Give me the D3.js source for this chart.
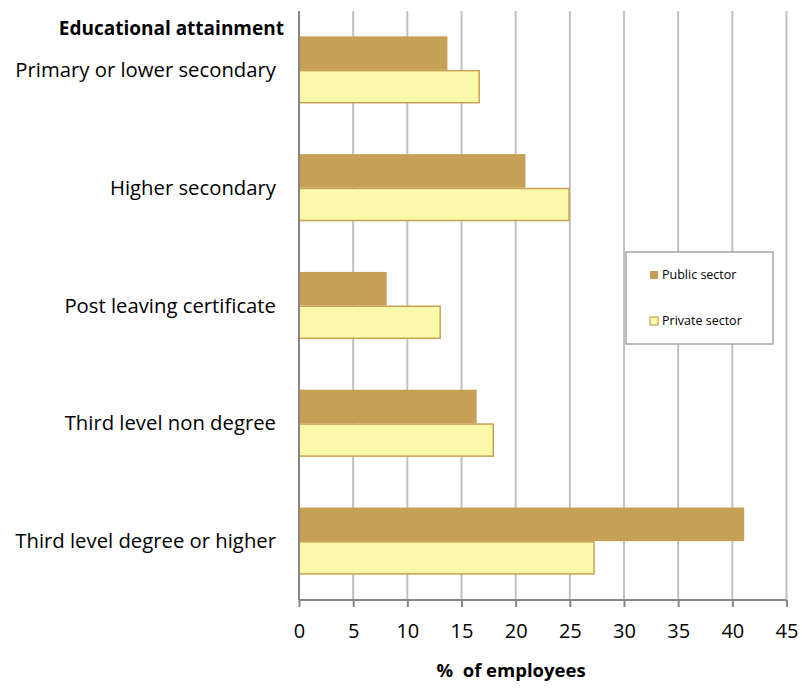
<!DOCTYPE html>
<html>
<head>
<meta charset="utf-8">
<script src="https://cdn.jsdelivr.net/npm/d3@7"></script>
<style>
  body { margin: 0; background: #fff; }
  svg { font-family: "Open Sans", sans-serif; }
</style>
</head>
<body>
<div id="chart"></div>
<script>
// values
const categories = ["Primary or lower secondary", "Higher secondary", "Post leaving certificate",
                    "Third level non degree", "Third level degree or higher"];
const publicSector = [13.7, 20.9, 8.1, 16.4, 41.1];
const privateSector = [16.7, 25.0, 13.1, 18.0, 27.3];
const seriesNames = ["Public sector", "Private sector"];
const xTicks = [0, 5, 10, 15, 20, 25, 30, 35, 40, 45];

function drawChart() {
  const W = 802, H = 688;
  const margin = {top: 11, right: 16, bottom: 88, left: 299};
  const w = W - margin.left - margin.right,
        h = H - margin.top - margin.bottom;

  const svg = d3.select("#chart").append("svg")
    .attr("width", W).attr("height", H);

  const g = svg.append("g")
    .attr("transform", "translate(" + margin.left + "," + margin.top + ")");

  const x = d3.scaleLinear().domain([0, 45]).range([0, 487.5]);
  const y = d3.scaleBand().domain(categories).range([0, h]).paddingInner(0.43).paddingOuter(0.215);
  const ySub = d3.scaleBand().domain(seriesNames).range([0, y.bandwidth()]);

  // gridlines
  g.selectAll("line.grid")
    .data(xTicks.slice(1))
    .enter().append("line")
    .attr("class", "grid")
    .attr("x1", d => x(d)).attr("x2", d => x(d))
    .attr("y1", 0).attr("y2", h)
    .attr("stroke", "#c0c0c0").attr("stroke-width", 2);

  const rows = categories.map((c, i) => ({cat: c, pub: publicSector[i], priv: privateSector[i]}));

  // public bars
  g.selectAll("rect.pub")
    .data(rows)
    .enter().append("rect")
    .attr("class", "pub")
    .attr("x", 0)
    .attr("y", d => y(d.cat) + ySub("Public sector"))
    .attr("width", d => x(d.pub))
    .attr("height", ySub.bandwidth())
    .attr("fill", "#c6a155");

  // private bars
  g.selectAll("rect.priv")
    .data(rows)
    .enter().append("rect")
    .attr("class", "priv")
    .attr("x", 0)
    .attr("y", d => y(d.cat) + ySub("Private sector") + 0.75)
    .attr("width", d => x(d.priv) - 0.75)
    .attr("height", ySub.bandwidth() - 1.5)
    .attr("fill", "#f9f9a9")
    .attr("stroke", "#c9a150").attr("stroke-width", 1.5);

  // x axis
  const xAxis = d3.axisBottom(x).tickValues(xTicks).tickSize(7).tickPadding(17).tickSizeOuter(0);
  const gX = g.append("g")
    .attr("transform", "translate(0," + h + ")")
    .call(xAxis);
  gX.select(".domain").attr("stroke", "#868686").attr("stroke-width", 2)
    .attr("d", "M0,0H" + x(45));
  gX.selectAll(".tick line").attr("stroke", "#868686").attr("stroke-width", 2);
  gX.selectAll(".tick text").attr("font-size", 20).attr("fill", "#000")
    .attr("font-family", "'Open Sans', sans-serif");

  // y axis line
  g.append("line")
    .attr("x1", 0).attr("x2", 0).attr("y1", 0).attr("y2", h)
    .attr("stroke", "#868686").attr("stroke-width", 2);

  // category labels
  g.selectAll("text.cat")
    .data(categories)
    .enter().append("text")
    .attr("class", "cat")
    .attr("x", -23)
    .attr("y", d => y(d) + y.bandwidth() / 2)
    .attr("dy", "0.35em")
    .attr("text-anchor", "end")
    .attr("font-size", 20.3)
    .text(d => d);

  svg.append("text")
    .attr("x", 284).attr("y", 35)
    .attr("text-anchor", "end")
    .attr("font-size", 19).attr("font-weight", "bold")
    .text("Educational attainment");

  svg.append("text")
    .attr("x", 511).attr("y", 677)
    .attr("text-anchor", "middle")
    .attr("font-size", 18.5).attr("font-weight", "bold")
    .attr("xml:space", "preserve")
    .text("%  of employees");

  // legend
  const leg = svg.append("g").attr("transform", "translate(626,252)");
  leg.append("rect")
    .attr("width", 147).attr("height", 92)
    .attr("fill", "#fff").attr("stroke", "#a6a6a6").attr("stroke-width", 1.5);
  const legItems = leg.selectAll("g.item")
    .data(seriesNames)
    .enter().append("g")
    .attr("transform", (d, i) => "translate(24," + (23 + i * 46) + ")");
  legItems.append("rect")
    .attr("x", 0).attr("y", -4).attr("width", 8).attr("height", 8)
    .attr("fill", (d, i) => i === 0 ? "#c6a155" : "#f9f9a9")
    .attr("stroke", (d, i) => i === 0 ? "none" : "#c9a150").attr("stroke-width", 1.2);
  legItems.append("text")
    .attr("x", 12).attr("dy", "0.35em")
    .attr("font-size", 12.5)
    .text(d => d);
}

drawChart();
</script>
</body>
</html>
